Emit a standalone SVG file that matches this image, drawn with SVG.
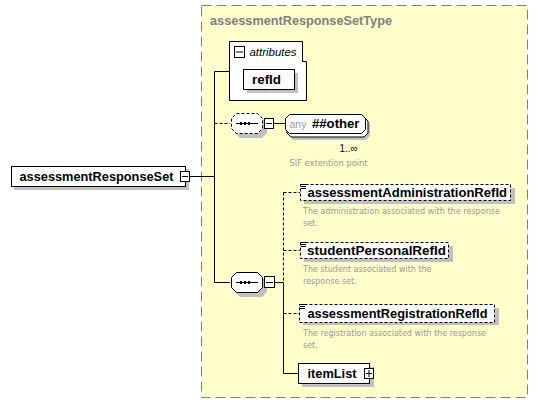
<svg xmlns="http://www.w3.org/2000/svg" width="539" height="405" viewBox="0 0 539 405">
<style>
.lbl{font-family:"Liberation Sans",Arial,sans-serif;font-weight:bold;font-size:13px;fill:#000}
.desc{font-family:"DejaVu Sans","Liberation Sans",sans-serif;font-size:8px;fill:#999}
.shadow{fill:#c0c0c0;stroke:none}
.box{fill:#fff;stroke:#000;stroke-width:1}
.dbox{fill:#fff;stroke:#000;stroke-width:1;stroke-dasharray:3,2}
.ln{stroke:#000;stroke-width:1;fill:none}
.dln{stroke:#000;stroke-width:1;fill:none;stroke-dasharray:3,2}
.btn{fill:#fff;stroke:#000;stroke-width:1}
</style>
<rect width="539" height="405" fill="#fff"/>
<g id="complexType">
<rect x="201.5" y="5.5" width="326" height="392" fill="#ffffcc" stroke="#808080" stroke-dasharray="10,5"/>
<text x="210" y="25" textLength="182" lengthAdjust="spacingAndGlyphs" style="font-family:'Liberation Sans',Arial,sans-serif;font-weight:bold;font-size:13px;fill:#808080">assessmentResponseSetType</text>
</g>
<g id="connectors">
<line class="ln" x1="190" y1="176.5" x2="214.5" y2="176.5"/>
<polyline class="ln" points="229,71.5 214.5,71.5 214.5,282.5 230,282.5"/>
<line class="dln" x1="214.5" y1="123.5" x2="230" y2="123.5"/>
<line class="ln" x1="274" y1="123.5" x2="285" y2="123.5"/>
<line class="ln" x1="275" y1="282.5" x2="283.5" y2="282.5"/>
<line class="dln" x1="283.5" y1="192.5" x2="283.5" y2="282.5"/>
<line class="ln" x1="283.5" y1="282.5" x2="283.5" y2="373.5"/>
<line class="dln" x1="283.5" y1="192.5" x2="300" y2="192.5"/>
<line class="dln" x1="283.5" y1="250.5" x2="300" y2="250.5"/>
<line class="dln" x1="283.5" y1="313.5" x2="299" y2="313.5"/>
<line class="ln" x1="283.5" y1="373.5" x2="298" y2="373.5"/>
</g>
<g id="root">
<rect class="shadow" x="14" y="169" width="175" height="21"/>
<rect class="box" x="11.5" y="166.5" width="174" height="20"/>
<text class="lbl" x="19.5" y="181" textLength="154" lengthAdjust="spacingAndGlyphs">assessmentResponseSet</text>
<rect class="btn" x="180.5" y="171.5" width="9" height="10"/>
<line class="ln" x1="182" y1="176.5" x2="188" y2="176.5"/>
</g>
<g id="attributes">
<path d="M229.5,41.5 H302.5 V61.5 H306.5 V100.5 H229.5 Z" fill="#fff" stroke="#000"/>
<rect class="btn" x="234.5" y="46.5" width="10" height="11"/>
<line class="ln" x1="236" y1="52" x2="243" y2="52"/>
<text x="249.5" y="56" textLength="47" lengthAdjust="spacingAndGlyphs" style="font-family:'Liberation Sans',Arial,sans-serif;font-style:italic;font-size:10.5px;fill:#000">attributes</text>
<rect class="shadow" x="247" y="73" width="51" height="20"/>
<rect class="box" x="243.5" y="69.5" width="51" height="20"/>
<text class="lbl" x="252" y="84" textLength="29" lengthAdjust="spacingAndGlyphs">refId</text>
</g>
<g id="sequence1">
<path class="shadow" d="M240,118 H262 L267,123 V133 L262,138 H240 L235,133 V123 Z"/>
<path class="dbox" d="M236.5,113.5 H257.5 L262.5,118.5 V128.5 L257.5,133.5 H236.5 L231.5,128.5 V118.5 Z"/>
<line x1="236" y1="123.5" x2="258" y2="123.5" stroke="#000"/>
<rect x="240" y="122" width="2" height="3" fill="#000"/><rect x="244" y="122" width="2" height="3" fill="#000"/><rect x="248" y="122" width="2" height="3" fill="#000"/>
<rect class="btn" x="264.5" y="118.5" width="9" height="10"/>
<line class="ln" x1="266" y1="123.5" x2="272" y2="123.5"/>
</g>
<g id="any">
<path d="M293,120 H366 L370,124 V136 L366,140 H293 L289,136 V124 Z" fill="#c0c0c0" stroke="none"/>
<path d="M291,117 H364 L368,121 V133 L364,137 H291 L287,133 V121 Z" fill="#fff" stroke="#000"/>
<path d="M289.5,114.5 H361.5 L365.5,118.5 V129.5 L361.5,133.5 H289.5 L285.5,129.5 V118.5 Z" fill="#fff" stroke="#000"/>
<text x="289.5" y="128" textLength="17" lengthAdjust="spacingAndGlyphs" style="font-family:'Liberation Sans',Arial,sans-serif;font-size:10.5px;fill:#999">any</text>
<text class="lbl" x="312" y="128" textLength="47.5" lengthAdjust="spacingAndGlyphs">##other</text>
<text x="339.5" y="152" textLength="18" lengthAdjust="spacingAndGlyphs" style="font-family:'Liberation Sans',Arial,sans-serif;font-size:10.5px;fill:#000">1..∞</text>
<text class="desc" x="289.5" y="166" textLength="78" lengthAdjust="spacingAndGlyphs">SIF extention point</text>
</g>
<g id="sequence2">
<path class="shadow" d="M240,277 H262 L267,282 V292 L262,297 H240 L235,292 V282 Z"/>
<path class="box" d="M236.5,272.5 H257.5 L262.5,277.5 V287.5 L257.5,292.5 H236.5 L231.5,287.5 V277.5 Z"/>
<line x1="236" y1="282.5" x2="258" y2="282.5" stroke="#000"/>
<rect x="240" y="281" width="2" height="3" fill="#000"/><rect x="244" y="281" width="2" height="3" fill="#000"/><rect x="248" y="281" width="2" height="3" fill="#000"/>
<rect class="btn" x="264.5" y="276.5" width="10" height="11"/>
<line class="ln" x1="266" y1="282.5" x2="273" y2="282.5"/>
</g>
<g id="assessmentAdministrationRefId">
<rect class="shadow" x="304" y="188" width="211" height="16"/>
<rect class="dbox" x="300.5" y="184.5" width="210" height="16"/>
<g stroke="#000"><line x1="300" y1="184.5" x2="306" y2="184.5"/><line x1="301" y1="186.5" x2="306" y2="186.5"/><line x1="301" y1="188.5" x2="306" y2="188.5"/></g>
<text class="lbl" x="307.5" y="197" textLength="199.5" lengthAdjust="spacingAndGlyphs">assessmentAdministrationRefId</text>
<text class="desc" x="303" y="214" textLength="197" lengthAdjust="spacingAndGlyphs">The administration associated with the response</text>
<text class="desc" x="303" y="226">set.</text>
</g>
<g id="studentPersonalRefId">
<rect class="shadow" x="304" y="246" width="149" height="16"/>
<rect class="dbox" x="300.5" y="242.5" width="148" height="16"/>
<g stroke="#000"><line x1="300" y1="242.5" x2="306" y2="242.5"/><line x1="301" y1="244.5" x2="306" y2="244.5"/><line x1="301" y1="246.5" x2="306" y2="246.5"/></g>
<text class="lbl" x="307" y="255" textLength="139" lengthAdjust="spacingAndGlyphs">studentPersonalRefId</text>
<text class="desc" x="303" y="272">The student associated with the</text>
<text class="desc" x="303" y="284">response set.</text>
</g>
<g id="assessmentRegistrationRefId">
<rect class="shadow" x="303" y="308" width="196" height="17"/>
<rect class="dbox" x="299.5" y="304.5" width="195" height="18"/>
<g stroke="#000"><line x1="299" y1="304.5" x2="305" y2="304.5"/><line x1="300" y1="306.5" x2="305" y2="306.5"/><line x1="300" y1="308.5" x2="305" y2="308.5"/></g>
<text class="lbl" x="307.5" y="318" textLength="180" lengthAdjust="spacingAndGlyphs">assessmentRegistrationRefId</text>
<text class="desc" x="303" y="336">The registration associated with the response</text>
<text class="desc" x="303" y="348">set.</text>
</g>
<g id="itemList">
<rect class="shadow" x="302" y="367" width="72" height="20"/>
<rect class="box" x="298.5" y="363.5" width="71" height="20"/>
<text class="lbl" x="307.5" y="378" textLength="49" lengthAdjust="spacingAndGlyphs">itemList</text>
<rect class="btn" x="364.5" y="368.5" width="9" height="10"/>
<line class="ln" x1="366" y1="373.5" x2="372" y2="373.5"/>
<line class="ln" x1="369" y1="370" x2="369" y2="377"/>
</g>
</svg>
